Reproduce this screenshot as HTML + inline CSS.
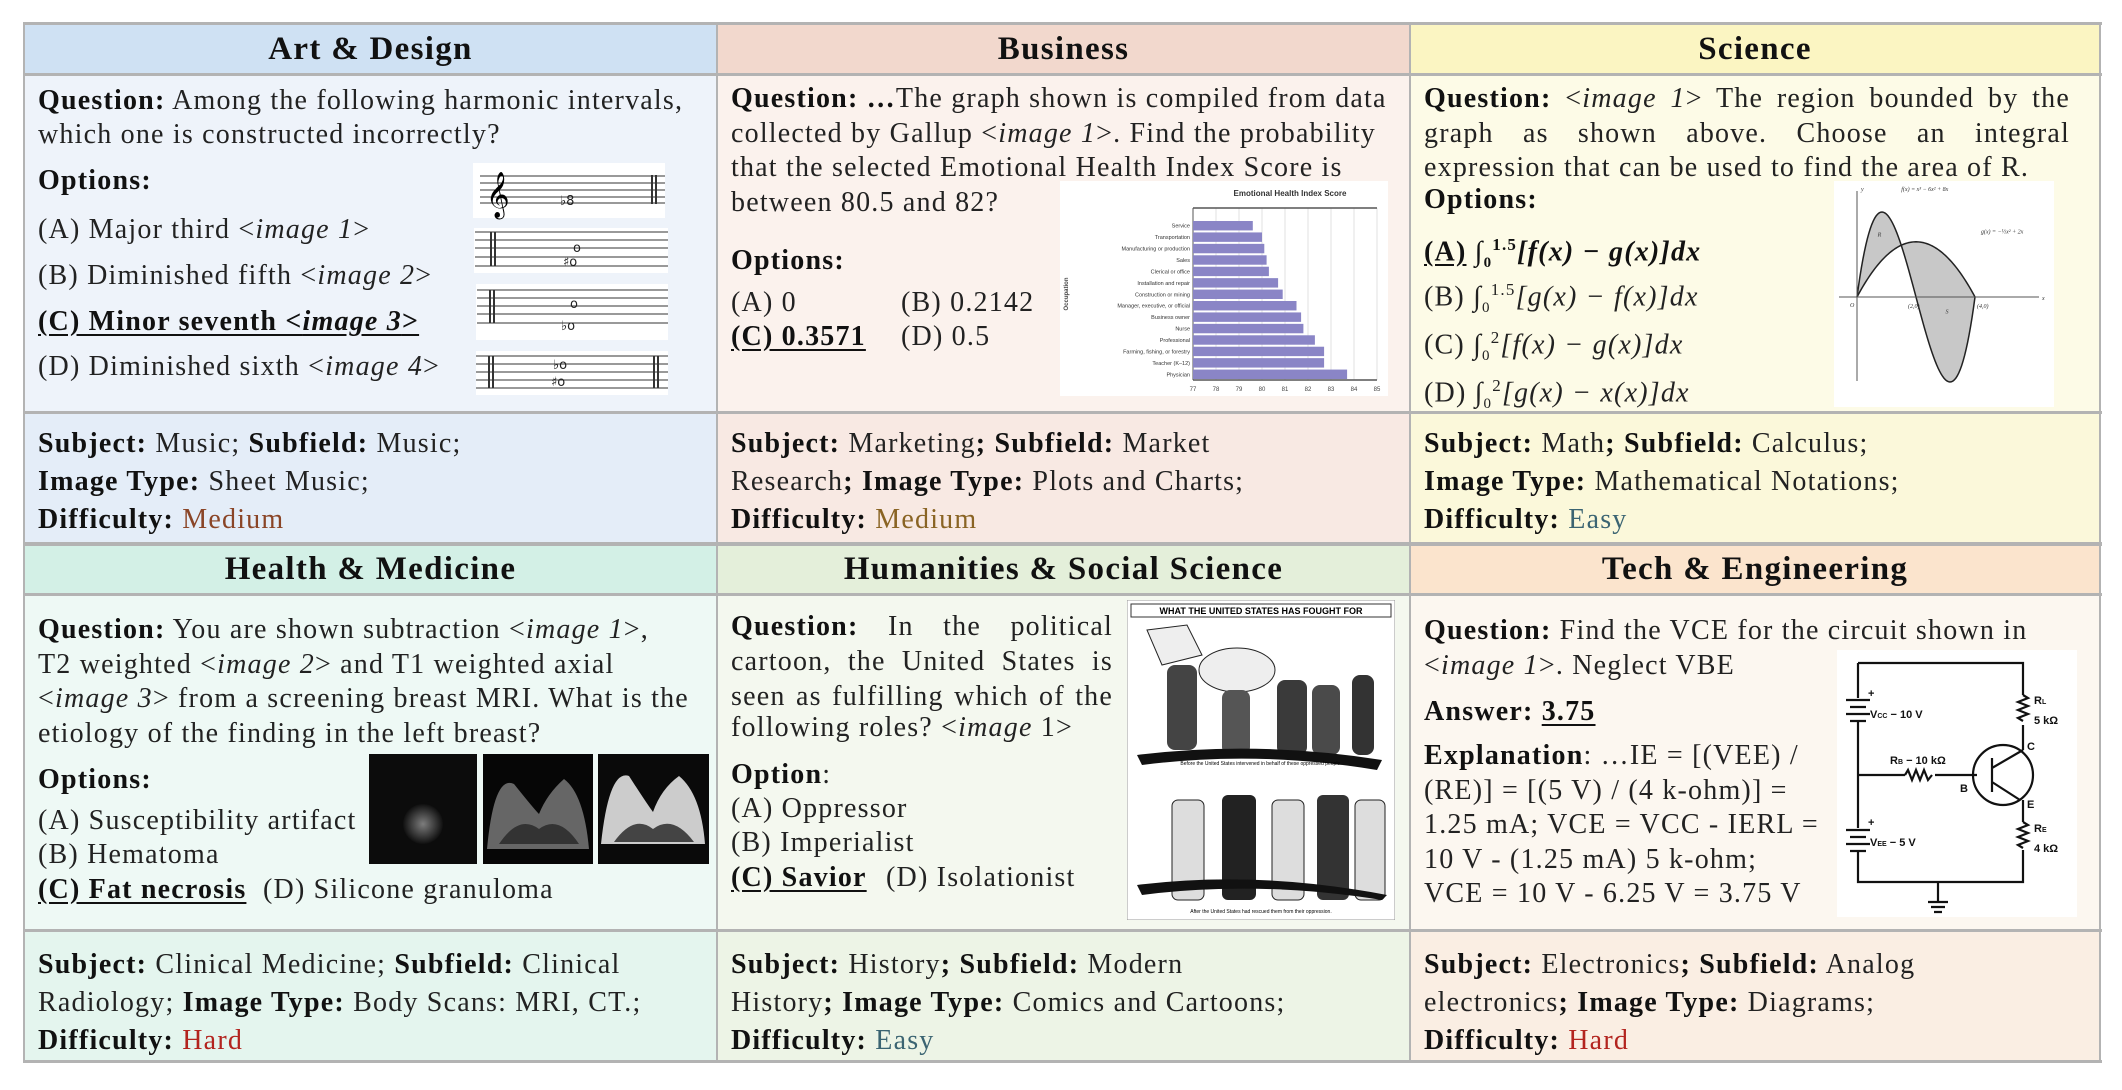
<!DOCTYPE html>
<html><head><meta charset="utf-8">
<style>
*{margin:0;padding:0;box-sizing:border-box}
body{width:2122px;height:1090px;background:#fff;position:relative;overflow:hidden;font-family:"Liberation Serif",serif;color:#222}
.c{position:absolute}
.h{position:absolute;font-weight:bold;font-size:33px;letter-spacing:1.3px;text-align:center;line-height:50px;color:#111}
.t{position:absolute;font-size:28px;letter-spacing:1.2px;white-space:nowrap;line-height:30px}
.j{text-align:justify;text-align-last:justify;white-space:normal}
b{color:#111}
.u{text-decoration:underline;text-underline-offset:4px}
.vl{position:absolute;background:#b3b3b3}
</style></head><body>
<!-- cell backgrounds -->
<div class="c" style="left:24px;top:24px;width:693px;height:50px;background:#cfe1f3"></div>
<div class="c" style="left:717px;top:24px;width:693px;height:50px;background:#f2d8cd"></div>
<div class="c" style="left:1410px;top:24px;width:690px;height:50px;background:#fbf5c2"></div>
<div class="c" style="left:24px;top:74px;width:693px;height:339px;background:#eef3fa"></div>
<div class="c" style="left:717px;top:74px;width:693px;height:339px;background:#fbf2ed"></div>
<div class="c" style="left:1410px;top:74px;width:690px;height:339px;background:#fdfbe7"></div>
<div class="c" style="left:24px;top:413px;width:693px;height:131px;background:#e4edf8"></div>
<div class="c" style="left:717px;top:413px;width:693px;height:131px;background:#f8e9e3"></div>
<div class="c" style="left:1410px;top:413px;width:690px;height:131px;background:#fbf8da"></div>
<div class="c" style="left:24px;top:544px;width:693px;height:51px;background:#d3f0e6"></div>
<div class="c" style="left:717px;top:544px;width:693px;height:51px;background:#e4efda"></div>
<div class="c" style="left:1410px;top:544px;width:690px;height:51px;background:#fbe4cd"></div>
<div class="c" style="left:24px;top:595px;width:693px;height:336px;background:#eef9f5"></div>
<div class="c" style="left:717px;top:595px;width:693px;height:336px;background:#f4f8ef"></div>
<div class="c" style="left:1410px;top:595px;width:690px;height:336px;background:#fcf7f0"></div>
<div class="c" style="left:24px;top:931px;width:693px;height:131px;background:#e4f5ee"></div>
<div class="c" style="left:717px;top:931px;width:693px;height:131px;background:#edf4e6"></div>
<div class="c" style="left:1410px;top:931px;width:690px;height:131px;background:#faeee3"></div>
<!-- grid lines -->
<div class="vl" style="left:23px;top:22px;width:2079px;height:3px"></div>
<div class="vl" style="left:23px;top:73px;width:2079px;height:3px"></div>
<div class="vl" style="left:23px;top:411px;width:2079px;height:3px"></div>
<div class="vl" style="left:23px;top:542px;width:2079px;height:4px"></div>
<div class="vl" style="left:23px;top:593px;width:2079px;height:3px"></div>
<div class="vl" style="left:23px;top:929px;width:2079px;height:3px"></div>
<div class="vl" style="left:23px;top:1060px;width:2079px;height:3px"></div>
<div class="vl" style="left:23px;top:22px;width:2px;height:1041px"></div>
<div class="vl" style="left:716px;top:22px;width:2px;height:1041px"></div>
<div class="vl" style="left:1409px;top:22px;width:2px;height:1041px"></div>
<div class="vl" style="left:2099px;top:22px;width:2px;height:1041px"></div>

<!-- headers -->
<div class="h" style="left:24px;top:24px;width:693px">Art &amp; Design</div>
<div class="h" style="left:717px;top:24px;width:693px">Business</div>
<div class="h" style="left:1410px;top:24px;width:690px">Science</div>
<div class="h" style="left:24px;top:544px;width:693px;height:51px;line-height:51px">Health &amp; Medicine</div>
<div class="h" style="left:717px;top:544px;width:693px;line-height:51px">Humanities &amp; Social Science</div>
<div class="h" style="left:1410px;top:544px;width:690px;line-height:51px">Tech &amp; Engineering</div>

<!-- Art body -->
<div class="t" style="left:38px;top:84px;line-height:34px"><b>Question:</b> Among the following harmonic intervals,<br>which one is constructed incorrectly?</div>
<div class="t" style="left:38px;top:166px"><b>Options:</b></div>
<div class="t" style="left:38px;top:215px">(A) Major third &lt;<i>image 1</i>&gt;</div>
<div class="t" style="left:38px;top:261px">(B) Diminished fifth &lt;<i>image 2</i>&gt;</div>
<div class="t u" style="left:38px;top:307px;font-weight:bold;color:#111">(C) Minor seventh &lt;<i>image 3</i>&gt;</div>
<div class="t" style="left:38px;top:352px">(D) Diminished sixth &lt;<i>image 4</i>&gt;</div>
<svg class="c" style="left:470px;top:160px" width="220" height="240" viewBox="0 0 220 240">
<g stroke="#333" stroke-width="1">
<rect x="3" y="3" width="192" height="55" fill="#fff" stroke="none"/>
<rect x="4" y="68" width="194" height="45" fill="#fff" stroke="none"/>
<rect x="6" y="124" width="192" height="56" fill="#fff" stroke="none"/>
<rect x="6" y="191" width="192" height="44" fill="#fff" stroke="none"/>
<path d="M10 16H195M10 23H195M10 30H195M10 37H195M10 43H195"/>
<path d="M5 72H198M5 80H198M5 88H198M5 97H198M5 106H198"/>
<path d="M7 130H198M7 138H198M7 146H198M7 154H198M7 163H198"/>
<path d="M6 196H198M6 204H198M6 212H198M6 220H198M6 228H198"/>
<path d="M182 15V44M186 15V44M21 72V106M25 72V106M20 130V163M24 130V163M19 196V228M23 196V228M184 196V228M188 196V228" stroke-width="2"/>
</g>
<text x="16" y="48" font-size="40" font-family="DejaVu Sans">𝄞</text>
<g font-family="DejaVu Sans" font-size="13" fill="#222">
<text x="90" y="45">♭8</text><text x="103" y="92">o</text><text x="93" y="106">♯o</text>
<text x="100" y="148">o</text><text x="91" y="170">♭o</text><text x="83" y="209">♭o</text><text x="81" y="226">♯o</text></g>
</svg>

<!-- Business body -->
<div class="t" style="left:731px;top:82px;line-height:34.5px"><b>Question: …</b>The graph shown is compiled from data<br>collected by Gallup &lt;<i>image 1</i>&gt;. Find the probability<br>that the selected Emotional Health Index Score is<br>between 80.5 and 82?</div>
<div class="t" style="left:731px;top:246px"><b>Options:</b></div>
<div class="t" style="left:731px;top:288px">(A) 0</div>
<div class="t" style="left:901px;top:288px">(B) 0.2142</div>
<div class="t u" style="left:731px;top:322px;font-weight:bold;color:#111">(C) 0.3571</div>
<div class="t" style="left:901px;top:322px">(D) 0.5</div>
<svg class="c" id="bizchart" style="left:1060px;top:181px" width="328" height="215"></svg>

<!-- Science body -->
<div class="t j" style="left:1424px;top:84px;width:646px"><b>Question:</b> &lt;<i>image 1</i>&gt; The region bounded by the</div>
<div class="t j" style="left:1424px;top:119px;width:646px">graph as shown above. Choose an integral</div>
<div class="t" style="left:1424px;top:153px">expression that can be used to find the area of R.</div>
<div class="t" style="left:1424px;top:185px"><b>Options:</b></div>
<div class="t" style="left:1424px;top:230px;font-weight:bold;color:#111"><span class="u">(A)</span> ∫<sub style="font-size:15px">0</sub><sup style="font-size:17px">1.5</sup><i>[f(x) − g(x)]dx</i></div>
<div class="t" style="left:1424px;top:275px">(B) ∫<sub style="font-size:15px">0</sub><sup style="font-size:17px">1.5</sup><i>[g(x) − f(x)]dx</i></div>
<div class="t" style="left:1424px;top:323px">(C) ∫<sub style="font-size:15px">0</sub><sup style="font-size:17px">2</sup><i>[f(x) − g(x)]dx</i></div>
<div class="t" style="left:1424px;top:371px">(D) ∫<sub style="font-size:15px">0</sub><sup style="font-size:17px">2</sup><i>[g(x) − x(x)]dx</i></div>
<svg class="c" id="calc" style="left:1834px;top:181px" width="220" height="226"></svg>

<!-- Meta row 1 -->
<div class="t" style="left:38px;top:425px;line-height:38px"><b>Subject:</b> Music; <b>Subfield:</b> Music;<br><b>Image Type:</b> Sheet Music;<br><b>Difficulty:</b> <span style="color:#8a4527">Medium</span></div>
<div class="t" style="left:731px;top:425px;line-height:38px"><b>Subject:</b> Marketing<b>;</b> <b>Subfield:</b> Market<br>Research<b>;</b> <b>Image Type:</b> Plots and Charts;<br><b>Difficulty:</b> <span style="color:#8a6424">Medium</span></div>
<div class="t" style="left:1424px;top:425px;line-height:38px"><b>Subject:</b> Math<b>;</b> <b>Subfield:</b> Calculus;<br><b>Image Type:</b> Mathematical Notations;<br><b>Difficulty:</b> <span style="color:#3b6472">Easy</span></div>

<!-- Health body -->
<div class="t" style="left:38px;top:613px;line-height:34.7px"><b>Question:</b> You are shown subtraction &lt;<i>image 1</i>&gt;,<br>T2 weighted &lt;<i>image 2</i>&gt; and T1 weighted axial<br>&lt;<i>image 3</i>&gt; from a screening breast MRI. What is the<br>etiology of the finding in the left breast?</div>
<div class="t" style="left:38px;top:765px"><b>Options:</b></div>
<div class="t" style="left:38px;top:806px">(A) Susceptibility artifact</div>
<div class="t" style="left:38px;top:840px">(B) Hematoma</div>
<div class="t u" style="left:38px;top:875px;font-weight:bold;color:#111">(C) Fat necrosis</div>
<div class="t" style="left:263px;top:875px">(D) Silicone granuloma</div>
<svg class="c" style="left:369px;top:754px" width="340" height="110" viewBox="0 0 340 110">
<defs><radialGradient id="g1"><stop offset="0" stop-color="#999"/><stop offset="1" stop-color="#111"/></radialGradient></defs>
<rect x="0" y="0" width="108" height="110" fill="#0c0c0c"/>
<ellipse cx="54" cy="70" rx="20" ry="20" fill="url(#g1)" opacity=".8"/>
<rect x="114" y="0" width="110" height="110" fill="#060606"/>
<path d="M118 95 Q125 20 145 30 Q165 55 170 60 Q178 40 195 25 Q215 40 220 95Z" fill="#666"/>
<path d="M130 90 Q150 60 170 75 Q190 60 210 90Z" fill="#333"/>
<rect x="229" y="0" width="111" height="110" fill="#0a0a0a"/>
<path d="M232 90 Q240 15 260 22 Q278 50 284 58 Q292 35 310 22 Q332 40 336 90Z" fill="#ccc"/>
<path d="M245 88 Q265 60 284 75 Q304 60 325 88Z" fill="#444"/>
</svg>

<!-- Humanities body -->
<div class="t j" style="left:731px;top:612px;width:382px"><b>Question:</b> In the political</div>
<div class="t j" style="left:731px;top:647px;width:382px">cartoon, the United States is</div>
<div class="t j" style="left:731px;top:682px;width:382px">seen as fulfilling which of the</div>
<div class="t" style="left:731px;top:713px">following roles? &lt;<i>image</i> 1&gt;</div>
<div class="t" style="left:731px;top:760px"><b>Option</b>:</div>
<div class="t" style="left:731px;top:794px">(A) Oppressor</div>
<div class="t" style="left:731px;top:828px">(B) Imperialist</div>
<div class="t u" style="left:731px;top:863px;font-weight:bold;color:#111">(C) Savior</div>
<div class="t" style="left:886px;top:863px">(D) Isolationist</div>
<svg class="c" style="left:1127px;top:600px" width="268" height="320" viewBox="0 0 268 320">
<rect x="0" y="0" width="268" height="320" fill="#fff" stroke="#999"/>
<rect x="4" y="4" width="260" height="13" fill="none" stroke="#333"/>
<text x="134" y="14" text-anchor="middle" font-size="9" font-weight="bold" font-family="Liberation Sans">WHAT THE UNITED STATES HAS FOUGHT FOR</text>
<g fill="#555">
<path d="M20 30 L60 25 L75 55 L35 65Z" fill="#eee" stroke="#222"/>
<ellipse cx="110" cy="70" rx="38" ry="22" fill="#eee" stroke="#222"/>
<rect x="40" y="65" width="30" height="85" rx="8" fill="#444"/>
<rect x="95" y="90" width="28" height="65" rx="8" fill="#555"/>
<rect x="150" y="80" width="30" height="75" rx="8" fill="#3a3a3a"/>
<rect x="185" y="85" width="28" height="70" rx="8" fill="#4a4a4a"/>
<rect x="225" y="75" width="22" height="80" rx="8" fill="#333"/>
<path d="M10 155 Q130 140 255 160 L250 170 Q130 150 15 165Z" fill="#111"/>
<rect x="45" y="200" width="32" height="100" rx="6" fill="#ddd" stroke="#222"/>
<rect x="95" y="195" width="34" height="105" rx="6" fill="#222"/>
<rect x="145" y="200" width="32" height="100" rx="6" fill="#ddd" stroke="#222"/>
<rect x="190" y="195" width="32" height="105" rx="6" fill="#333"/>
<rect x="228" y="200" width="30" height="100" rx="6" fill="#ddd" stroke="#222"/>
<path d="M10 285 Q130 270 260 295 L255 300 Q130 280 15 295Z" fill="#111"/>
</g>
<text x="134" y="165" text-anchor="middle" font-size="5" font-family="Liberation Sans">Before the United States intervened in behalf of these oppressed people.</text>
<text x="134" y="313" text-anchor="middle" font-size="5" font-family="Liberation Sans">After the United States had rescued them from their oppression.</text>
</svg>

<!-- Tech body -->
<div class="t" style="left:1424px;top:613px;line-height:35px"><b>Question:</b> Find the VCE for the circuit shown in<br>&lt;<i>image 1</i>&gt;. Neglect VBE</div>
<div class="t" style="left:1424px;top:697px"><b>Answer: <span class="u">3.75</span></b></div>
<div class="t" style="left:1424px;top:739px;line-height:34.5px"><b>Explanation</b>: …IE = [(VEE) /<br>(RE)] = [(5 V) / (4 k-ohm)] =<br>1.25 mA; VCE = VCC - IERL =<br>10 V - (1.25 mA) 5 k-ohm;<br>VCE = 10 V - 6.25 V = 3.75 V</div>
<svg class="c" style="left:1830px;top:640px" width="260" height="290" viewBox="0 0 260 290">
<rect x="7" y="10" width="240" height="267" fill="#fff"/>
<g stroke="#111" stroke-width="2.2" fill="none">
<path d="M28 23H193V55M193 85V110"/>
<path d="M193 55l5 3-10 4 10 4-10 4 10 4-10 4 5 3"/>
<path d="M28 23V58M28 82V135M28 135H75M105 135H147"/>
<path d="M75 135l3-5 4 10 4-10 4 10 4-10 4 10 4-5"/>
<circle cx="173" cy="135" r="30"/>
<path d="M162 118V152M162 128L193 110M162 142L190 160M193 160V182M193 210V242H28V212M28 188V135M108 242V262"/>
<path d="M193 182l5 3-10 4 10 4-10 4 10 4-10 4 5 3"/>
<path d="M16 60H40M20 67H36M16 74H40M20 81H36M16 190H40M20 197H36M16 204H40M20 211H36M98 262H118M101 267H115M104 272H112"/>
</g>
<g font-family="Liberation Sans" font-weight="bold" font-size="11" fill="#111">
<text x="38" y="57">+</text><text x="40" y="78">V<tspan font-size="7">CC</tspan> − 10 V</text>
<text x="38" y="186">+</text><text x="40" y="206">V<tspan font-size="7">EE</tspan> − 5 V</text>
<text x="60" y="124">R<tspan font-size="7">B</tspan> − 10 kΩ</text>
<text x="130" y="152">B</text><text x="197" y="110">C</text><text x="197" y="168">E</text>
<text x="204" y="64">R<tspan font-size="7">L</tspan></text><text x="204" y="84">5 kΩ</text>
<text x="204" y="192">R<tspan font-size="7">E</tspan></text><text x="204" y="212">4 kΩ</text>
</g></svg>

<!-- Meta row 2 -->
<div class="t" style="left:38px;top:946px;line-height:38px"><b>Subject:</b> Clinical Medicine; <b>Subfield:</b> Clinical<br>Radiology; <b>Image Type:</b> Body Scans: MRI, CT.;<br><b>Difficulty:</b> <span style="color:#b3241f">Hard</span></div>
<div class="t" style="left:731px;top:946px;line-height:38px"><b>Subject:</b> History<b>;</b> <b>Subfield:</b> Modern<br>History<b>;</b> <b>Image Type:</b> Comics and Cartoons;<br><b>Difficulty:</b> <span style="color:#3b6472">Easy</span></div>
<div class="t" style="left:1424px;top:946px;line-height:38px"><b>Subject:</b> Electronics<b>;</b> <b>Subfield:</b> Analog<br>electronics<b>;</b> <b>Image Type:</b> Diagrams;<br><b>Difficulty:</b> <span style="color:#b3241f">Hard</span></div>

<script>
// Emotional Health Index chart data
const categories = ["Service","Transportation","Manufacturing or production","Sales","Clerical or office","Installation and repair","Construction or mining","Manager, executive, or official","Business owner","Nurse","Professional","Farming, fishing, or forestry","Teacher (K–12)","Physician"];
const scores = [79.6,80.0,80.1,80.2,80.3,80.7,80.9,81.5,81.7,81.8,82.3,82.7,82.7,83.7];
const xTicks = [77,78,79,80,81,82,83,84,85];
const NS = "http://www.w3.org/2000/svg";
function mk(p, tag, attrs){const e=document.createElementNS(NS,tag);for(const k in attrs)e.setAttribute(k,attrs[k]);p.appendChild(e);return e;}
(function(){
  const svg=document.getElementById('bizchart');
  const L=133,R=317,T=27,B=199;
  const xs=v=>L+(v-77)/(85-77)*(R-L);
  const band=(B-T-12)/categories.length;
  const ys=i=>T+12+i*band;
  const bg=mk(svg,'rect',{x:0,y:0,width:328,height:215,fill:'#fff'});
  
  
  const tt=mk(svg,'text',{x:230,y:15,'font-size':8,'font-weight':'bold','text-anchor':'middle','font-family':'Liberation Sans',fill:'#333'});
  tt.textContent='Emotional Health Index Score';
  
  
  xTicks.forEach(t=>{
    const gl=mk(svg,'line',{x1:xs(t),x2:xs(t),y1:T,y2:B,stroke:'#e2e2e2','stroke-width':1});
    
    
    const tl=mk(svg,'text',{x:xs(t),y:B+11,'font-size':6,'text-anchor':'middle','font-family':'Liberation Sans',fill:'#444'});
    tl.textContent=t;
    
    
  });
  mk(svg,'line',{x1:L,x2:R,y1:T,y2:T,stroke:'#555','stroke-width':1.5});
  mk(svg,'line',{x1:L,x2:R,y1:B,y2:B,stroke:'#555','stroke-width':1.5});
  mk(svg,'line',{x1:L,x2:L,y1:T,y2:B,stroke:'#555','stroke-width':1});
  categories.forEach((c,i)=>{
    const b=mk(svg,'rect',{x:L,y:ys(i)+1,width:xs(scores[i])-L,height:band-2,fill:'#8a85c6'});
    
    
    const l=mk(svg,'text',{x:L-3,y:ys(i)+band/2+2,'font-size':5.5,'text-anchor':'end','font-family':'Liberation Sans',fill:'#333'});
    l.textContent=c;
    
    
  });
  const yl=mk(svg,'text',{x:8,y:113,'font-size':6,'font-weight':'bold','text-anchor':'middle','font-family':'Liberation Sans',fill:'#444',transform:'rotate(-90 8 113)'});
  yl.textContent='Occupation';
  
  
})();
(function(){
  const svg=document.getElementById('calc');
  mk(svg,'rect',{x:0,y:0,width:220,height:226,fill:'#fff'});
  const ox=23,oy=116,ux=29.5,uy=27.6;
  const X=x=>ox+x*ux,Y=y=>oy-y*uy;
  const f=x=>x*x*x-6*x*x+8*x, g=x=>-0.5*x*x+2*x;
  let d='M'+X(0)+' '+Y(0);
  for(let x=0;x<=4.001;x+=0.05)d+=' L'+X(x)+' '+Y(f(x));
  for(let x=4;x>=-0.001;x-=0.05)d+=' L'+X(x)+' '+Y(g(x));
  mk(svg,'path',{d:d+'Z',fill:'#c8c8c8',stroke:'none'});
  let pf='',pg='';
  for(let x=0;x<=4.001;x+=0.05){pf+=(x?' L':'M')+X(x)+' '+Y(f(x));pg+=(x?' L':'M')+X(x)+' '+Y(g(x));}
  mk(svg,'path',{d:pf,fill:'none',stroke:'#222','stroke-width':1.5});
  mk(svg,'path',{d:pg,fill:'none',stroke:'#222','stroke-width':1.5});
  mk(svg,'line',{x1:5,x2:205,y1:oy,y2:oy,stroke:'#555'});
  mk(svg,'line',{x1:ox,x2:ox,y1:10,y2:200,stroke:'#555'});
  const lab=[[ox-7,oy+10,'O'],[X(2)-8,oy+11,'(2,0)'],[X(4)+2,oy+11,'(4,0)'],[X(0.7),Y(2.2),'R'],[X(3),Y(-0.6),'S'],[X(1.5),10,'f(x) = x³ − 6x² + 8x'],[X(4.2),Y(2.3),'g(x) = −½x² + 2x'],[208,oy+3,'x'],[ox+4,10,'y']];
  lab.forEach(a=>{const t=mk(svg,'text',{x:a[0],y:a[1],'font-size':6,'font-style':'italic','font-family':'Liberation Serif',fill:'#333'});t.textContent=a[2];});
})();
</script>
</body></html>
